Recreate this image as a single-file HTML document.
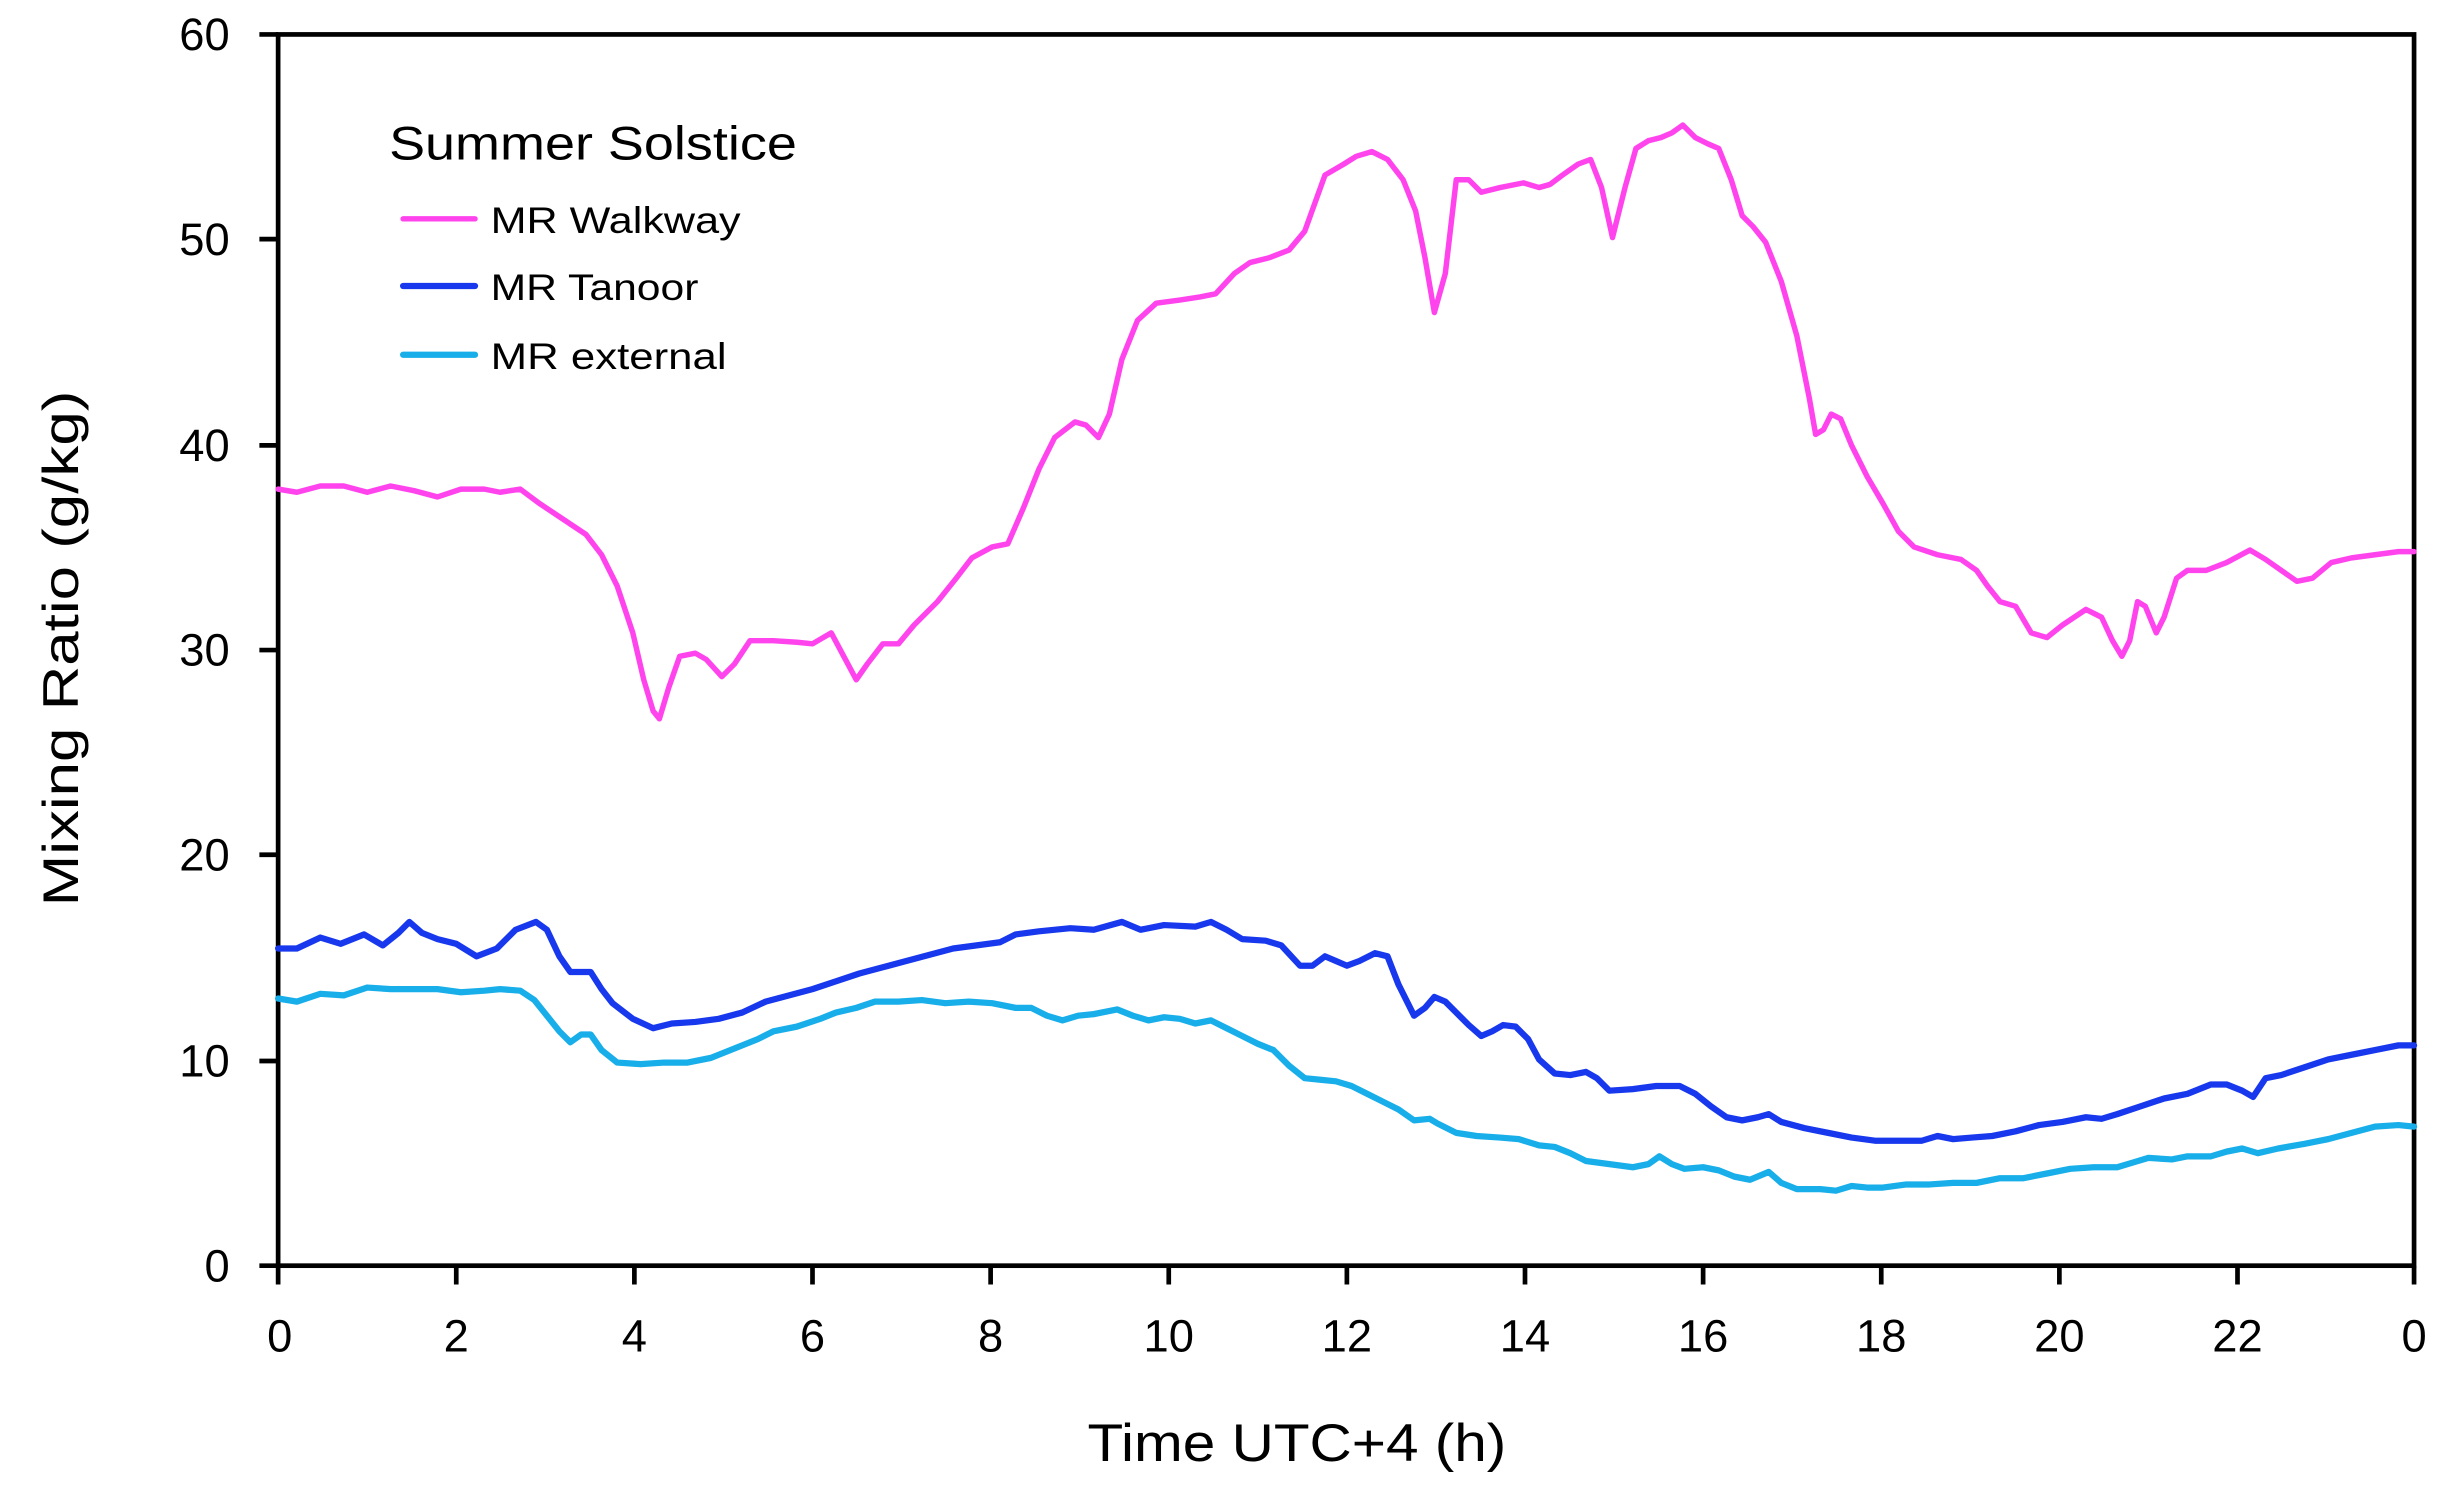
<!DOCTYPE html>
<html><head><meta charset="utf-8"><style>html,body{margin:0;padding:0;background:#fff}svg{display:block}</style></head>
<body>
<svg width="2450" height="1497" viewBox="0 0 1568 958" xmlns="http://www.w3.org/2000/svg" font-family="'Liberation Sans', sans-serif">
<rect width="1568" height="958" fill="#fff"/>
<g stroke="#000" stroke-width="3" fill="none">
<rect x="178" y="22" width="1367" height="788"/>
<path d="M178,810v12M292,810v12M406,810v12M520,810v12M634,810v12M748,810v12M862,810v12M976,810v12M1090,810v12M1204,810v12M1318,810v12M1432,810v12M1545,810v12"/>
<path d="M166,22h12M166,153h12M166,285h12M166,416h12M166,547h12M166,679h12M166,810h12"/>
</g>
<g font-size="29" fill="#000" text-anchor="end">
<text x="147" y="32">60</text><text x="147" y="163">50</text><text x="147" y="295">40</text><text x="147" y="426">30</text><text x="147" y="557">20</text><text x="147" y="689">10</text><text x="147" y="820">0</text>
</g>
<g font-size="29" fill="#000" text-anchor="middle">
<text x="179" y="865">0</text><text x="292" y="865">2</text><text x="406" y="865">4</text><text x="520" y="865">6</text><text x="634" y="865">8</text><text x="748" y="865">10</text><text x="862" y="865">12</text><text x="976" y="865">14</text><text x="1090" y="865">16</text><text x="1204" y="865">18</text><text x="1318" y="865">20</text><text x="1432" y="865">22</text><text x="1545" y="865">0</text>
</g>
<text x="830" y="935" font-size="34" text-anchor="middle" textLength="268" lengthAdjust="spacingAndGlyphs">Time UTC+4 (h)</text>
<text transform="translate(50,415) rotate(-90)" font-size="32" text-anchor="middle" textLength="330" lengthAdjust="spacingAndGlyphs">Mixing Ratio (g/kg)</text>
<text x="249" y="102" font-size="30" textLength="261" lengthAdjust="spacingAndGlyphs">Summer Solstice</text>
<g font-size="24">
<text x="314" y="149" textLength="160" lengthAdjust="spacingAndGlyphs">MR Walkway</text>
<text x="314" y="192" textLength="133" lengthAdjust="spacingAndGlyphs">MR Tanoor</text>
<text x="314" y="236" textLength="151" lengthAdjust="spacingAndGlyphs">MR external</text>
</g>
<g stroke-width="3.5" fill="none" stroke-linejoin="round" stroke-linecap="round">
<path d="M258,140h46" stroke="#ff44ee"/>
<path d="M258,183h46" stroke="#1838ee" stroke-width="4"/>
<path d="M258,227h46" stroke="#18aeea" stroke-width="4"/>
<polyline stroke="#ff44ee" points="178,313 190,315 205,311 220,311 235,315 250,311 265,314 280,318 295,313 310,313 320,315 333,313 345,322 360,332 375,342 385,355 395,375 405,405 412,435 418,455 422,460 428,440 435,420 445,418 452,422 462,433 470,425 480,410 495,410 510,411 520,412 532,405 540,420 548,435 555,425 565,412 575,412 585,400 600,385 612,370 622,357 635,350 645,348 655,325 665,300 675,280 688,270 695,272 703,280 710,265 718,230 728,205 740,194 755,192 768,190 778,188 790,175 800,168 812,165 825,160 835,148 848,112 860,105 868,100 878,97 888,102 898,115 906,135 912,165 918,200 925,175 932,115 940,115 948,123 960,120 975,117 985,120 992,118 1000,112 1010,105 1018,102 1025,120 1032,152 1040,120 1047,95 1055,90 1063,88 1070,85 1077,80 1085,88 1093,92 1100,95 1108,115 1115,138 1122,145 1130,155 1140,180 1150,215 1158,255 1162,278 1167,275 1172,265 1178,268 1185,285 1195,305 1205,322 1215,340 1225,350 1240,355 1255,358 1265,365 1272,375 1280,385 1290,388 1300,405 1310,408 1320,400 1335,390 1345,395 1352,410 1358,420 1363,410 1368,385 1373,388 1380,405 1385,395 1393,370 1400,365 1412,365 1425,360 1440,352 1450,358 1460,365 1470,372 1480,370 1492,360 1505,357 1520,355 1535,353 1545,353"/>
<polyline stroke="#1838ee" stroke-width="4" points="178,607 190,607 205,600 218,604 233,598 245,605 255,597 262,590 270,597 280,601 292,604 305,612 318,607 330,595 343,590 350,595 358,612 365,622 378,622 385,633 392,642 405,652 418,658 430,655 445,654 460,652 475,648 490,641 505,637 520,633 535,628 550,623 565,619 580,615 595,611 610,607 625,605 640,603 650,598 665,596 685,594 700,595 718,590 730,595 745,592 765,593 775,590 785,595 795,601 810,602 820,605 832,618 840,618 848,612 855,615 862,618 870,615 880,610 888,612 895,630 905,650 912,645 918,638 925,641 932,648 940,656 948,663 955,660 962,656 970,657 978,665 985,678 995,687 1005,688 1015,686 1022,690 1030,698 1045,697 1060,695 1075,695 1085,700 1095,708 1105,715 1115,717 1125,715 1132,713 1140,718 1155,722 1170,725 1185,728 1200,730 1215,730 1230,730 1240,727 1250,729 1262,728 1275,727 1290,724 1305,720 1320,718 1335,715 1345,716 1355,713 1370,708 1385,703 1400,700 1415,694 1425,694 1435,698 1442,702 1450,690 1460,688 1475,683 1490,678 1505,675 1520,672 1535,669 1545,669"/>
<polyline stroke="#18aeea" stroke-width="4" points="178,639 190,641 205,636 220,637 235,632 250,633 265,633 280,633 295,635 310,634 320,633 333,634 342,640 350,650 358,660 365,667 372,662 378,662 385,672 395,680 410,681 425,680 440,680 455,677 470,671 485,665 495,660 510,657 525,652 535,648 548,645 560,641 575,641 590,640 605,642 620,641 635,642 650,645 660,645 670,650 680,653 690,650 700,649 715,646 725,650 735,653 745,651 755,652 765,655 775,653 785,658 795,663 805,668 815,672 825,682 835,690 845,691 855,692 865,695 875,700 885,705 895,710 905,717 915,716 920,719 932,725 945,727 960,728 972,729 985,733 995,734 1005,738 1015,743 1030,745 1045,747 1055,745 1062,740 1070,745 1078,748 1090,747 1100,749 1110,753 1120,755 1132,750 1140,757 1150,761 1165,761 1175,762 1185,759 1195,760 1205,760 1220,758 1235,758 1250,757 1265,757 1280,754 1295,754 1310,751 1325,748 1340,747 1355,747 1365,744 1375,741 1390,742 1400,740 1415,740 1425,737 1435,735 1445,738 1458,735 1475,732 1490,729 1505,725 1520,721 1535,720 1545,721"/>
</g>
</svg>
</body></html>
